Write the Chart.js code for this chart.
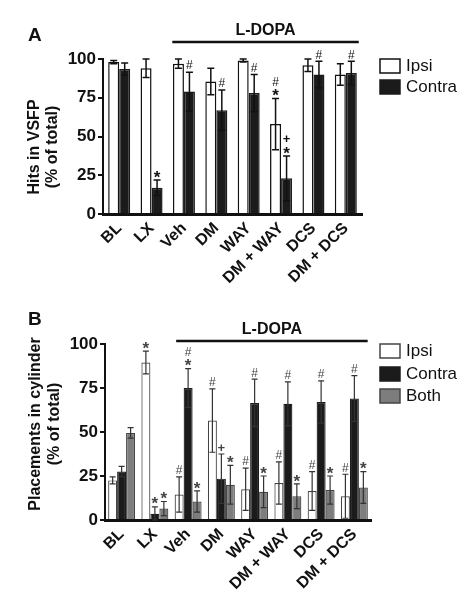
<!DOCTYPE html>
<html>
<head>
<meta charset="utf-8">
<script src="https://cdn.jsdelivr.net/npm/chart.js@4.4.0/dist/chart.umd.min.js"></script>
<style>
    body { margin: 0; background: #fff; }
    canvas { display: block; }
</style>
</head>
<body>
<canvas id="chartA" width="469" height="300"></canvas>
<canvas id="chartB" width="469" height="300"></canvas>
<script>
let grupos = ["BL", "LX", "Veh", "DM", "WAY", "DM + WAY", "DCS", "DM + DCS"]
let yTicks = [0, 25, 50, 75, 100]

// A - Hits in VSFP
let hitsIpsi = [98, 94, 97, 85.5, 99, 58, 96, 90]
let hitsIpsiErr = [1, 6, 3, 8.5, 1, 16.5, 4, 7]
let hitsIpsiMarcas = ["", "", "", "", "", "#*", "", ""]
let hitsContra = [93.5, 17, 79, 67, 78, 23, 90, 91]
let hitsContraErr = [4, 5, 12.5, 13, 12, 14.5, 8.5, 7.5]
let hitsContraMarcas = ["", "*", "#", "#", "#", "+*", "#", "#"]

// B - Placements in cylinder
let placIpsi = [22.5, 89.5, 14.5, 56.5, 17.5, 21, 16.5, 13.5]
let placIpsiErr = [2, 6.5, 10, 18, 12, 12, 11, 12.5]
let placIpsiMarcas = ["", "*", "#", "#", "#", "#", "#", "#"]
let placContra = [27.5, 3.5, 75, 23.5, 66.5, 66, 67, 69]
let placContraErr = [3, 4, 11, 14, 13.5, 12.5, 12, 13]
let placContraMarcas = ["", "*", "#*", "+", "#", "#", "#", "#"]
let placBoth = [49.5, 6.5, 10.5, 20, 16, 13.5, 17, 18.5]
let placBothErr = [3, 4, 6, 11, 9, 7, 8, 9]
let placBothMarcas = ["", "*", "*", "*", "*", "*", "*", "*"]

let preto = "#1b1b1b"
let cinza = "#7d7d7d"
let fonte = "'Liberation Sans', Arial, sans-serif"

function desenharMarca(ctx, simbolo, x, y, corMarca) {
    ctx.fillStyle = corMarca
    if (simbolo == "*") {
        ctx.font = "bold 17px " + fonte
        ctx.fillText("*", x, y + 4)
    } else if (simbolo == "+") {
        ctx.font = "bold 13px " + fonte
        ctx.fillText("+", x, y)
    } else {
        ctx.font = "12px " + fonte
        ctx.fillText(simbolo, x, y)
    }
}

function criarPlugin(cfg) {
    return {
        id: "extras",
        afterDatasetsDraw(chart) {
            let ctx = chart.ctx
            let yScale = chart.scales.y
            ctx.save()
            chart.data.datasets.forEach((ds, i) => {
                let meta = chart.getDatasetMeta(i)
                meta.data.forEach((bar, j) => {
                    let v = ds.data[j]
                    let e = ds.erros[j]
                    let yTopo = yScale.getPixelForValue(v + e)
                    let yBase = yScale.getPixelForValue(Math.max(v - e, 0))
                    ctx.strokeStyle = cfg.corErro
                    ctx.lineWidth = cfg.larguraErro
                    ctx.beginPath()
                    ctx.moveTo(bar.x, yTopo)
                    ctx.lineTo(bar.x, yBase)
                    ctx.moveTo(bar.x - cfg.cap, yTopo)
                    ctx.lineTo(bar.x + cfg.cap, yTopo)
                    ctx.moveTo(bar.x - cfg.cap, yBase)
                    ctx.lineTo(bar.x + cfg.cap, yBase)
                    ctx.stroke()

                    let marcas = ds.marcas[j].split("").reverse()
                    ctx.textAlign = "center"
                    ctx.textBaseline = "middle"
                    marcas.forEach((s, k) => {
                        desenharMarca(ctx, s, bar.x, yTopo - 6 - k * 10, cfg.corMarca)
                    })
                })
            })
            ctx.restore()
        },
        afterDraw(chart) {
            let ctx = chart.ctx
            let x = chart.scales.x
            let area = chart.chartArea
            ctx.save()
            ctx.fillStyle = "#111"

            // letra do painel
            ctx.font = "bold 19px " + fonte
            ctx.textAlign = "left"
            ctx.textBaseline = "middle"
            ctx.fillText(cfg.letra, 28, cfg.letraY)

            // titulo do eixo y
            ctx.font = "bold 16px " + fonte
            ctx.textAlign = "center"
            cfg.tituloY.forEach((t, k) => {
                ctx.save()
                ctx.translate(cfg.tituloX[k], cfg.tituloCentro)
                ctx.rotate(-Math.PI / 2)
                ctx.fillText(t, 0, 0)
                ctx.restore()
            })

            // L-DOPA
            let catW = (area.right - area.left) / grupos.length
            let x0 = x.getPixelForValue(2) - 0.36 * catW
            let x1 = x.getPixelForValue(7) + 0.4 * catW
            ctx.strokeStyle = "#111"
            ctx.lineWidth = 2.5
            ctx.beginPath()
            ctx.moveTo(x0, cfg.linhaY)
            ctx.lineTo(x1, cfg.linhaY)
            ctx.stroke()
            ctx.font = "bold 16px " + fonte
            ctx.fillText("L-DOPA", (x0 + x1) / 2, cfg.linhaY - 11)

            // legenda
            chart.data.datasets.forEach((ds, i) => {
                let by = cfg.legendaY[i]
                ctx.fillStyle = ds.backgroundColor
                ctx.fillRect(380, by, 20, 14)
                ctx.strokeStyle = ds.borderColor
                ctx.lineWidth = 1.5
                ctx.strokeRect(380, by, 20, 14)
                ctx.fillStyle = "#111"
                ctx.font = "17px " + fonte
                ctx.textAlign = "left"
                ctx.fillText(ds.label, 406, by + 7)
            })
            ctx.restore()
        },
    }
}

function criarGrafico(id, datasets, cfg) {
    let ctx = document.getElementById(id).getContext("2d")
    return new Chart(ctx, {
        type: "bar",
        data: {
            labels: grupos,
            datasets: datasets,
        },
        options: {
            responsive: false,
            animation: false,
            events: [],
            layout: {
                padding: { left: 0, right: 469 - cfg.right, top: cfg.top, bottom: 0 },
            },
            plugins: {
                legend: { display: false },
                tooltip: { enabled: false },
            },
            datasets: {
                bar: {
                    categoryPercentage: cfg.catPct,
                    barPercentage: 1,
                    borderWidth: cfg.larguraBorda,
                },
            },
            scales: {
                x: {
                    grid: { display: false, drawTicks: false },
                    border: { display: true, color: "#111", width: 3 },
                    ticks: {
                        autoSkip: false,
                        minRotation: 45,
                        maxRotation: 45,
                        padding: 5,
                        color: "#111",
                        font: { family: fonte, size: 16, weight: "bold" },
                    },
                    afterFit: (scale) => {
                        scale.height = 300 - cfg.bottom
                    },
                },
                y: {
                    min: 0,
                    max: 100,
                    grid: { drawOnChartArea: false, drawTicks: true, tickLength: 5, color: "#111", lineWidth: 2 },
                    border: { display: true, color: "#111", width: 2 },
                    ticks: {
                        padding: 2,
                        color: "#111",
                        font: { family: fonte, size: 17, weight: "bold" },
                    },
                    afterBuildTicks: (scale) => {
                        scale.ticks = yTicks.map((v) => ({ value: v }))
                    },
                    afterFit: (scale) => {
                        scale.width = cfg.left
                    },
                },
            },
        },
        plugins: [criarPlugin(cfg)],
    })
}

let graficoA = criarGrafico("chartA", [
    { label: "Ipsi", data: hitsIpsi, erros: hitsIpsiErr, marcas: hitsIpsiMarcas, backgroundColor: "#ffffff", borderColor: "#111" },
    { label: "Contra", data: hitsContra, erros: hitsContraErr, marcas: hitsContraMarcas, backgroundColor: preto, borderColor: preto },
], {
    left: 103, right: 362, top: 59, bottom: 214,
    catPct: 0.68, larguraBorda: 1.5,
    corErro: "#111", larguraErro: 1.5, cap: 3.5, corMarca: "#111",
    letra: "A", letraY: 36,
    tituloY: ["Hits in VSFP", "(% of total)"], tituloX: [35, 53], tituloCentro: 147,
    linhaY: 42,
    legendaY: [59, 80],
})

let graficoB = criarGrafico("chartB", [
    { label: "Ipsi", data: placIpsi, erros: placIpsiErr, marcas: placIpsiMarcas, backgroundColor: "#ffffff", borderColor: "#444" },
    { label: "Contra", data: placContra, erros: placContraErr, marcas: placContraMarcas, backgroundColor: preto, borderColor: preto },
    { label: "Both", data: placBoth, erros: placBothErr, marcas: placBothMarcas, backgroundColor: cinza, borderColor: "#444" },
], {
    left: 105, right: 371, top: 44, bottom: 220,
    catPct: 0.81, larguraBorda: 1.2,
    corErro: "#333", larguraErro: 1.2, cap: 3, corMarca: "#444",
    letra: "B", letraY: 20,
    tituloY: ["Placements in cylinder", "(% of total)"], tituloX: [36, 55], tituloCentro: 124,
    linhaY: 41,
    legendaY: [44, 67, 89],
})
</script>
</body>
</html>
